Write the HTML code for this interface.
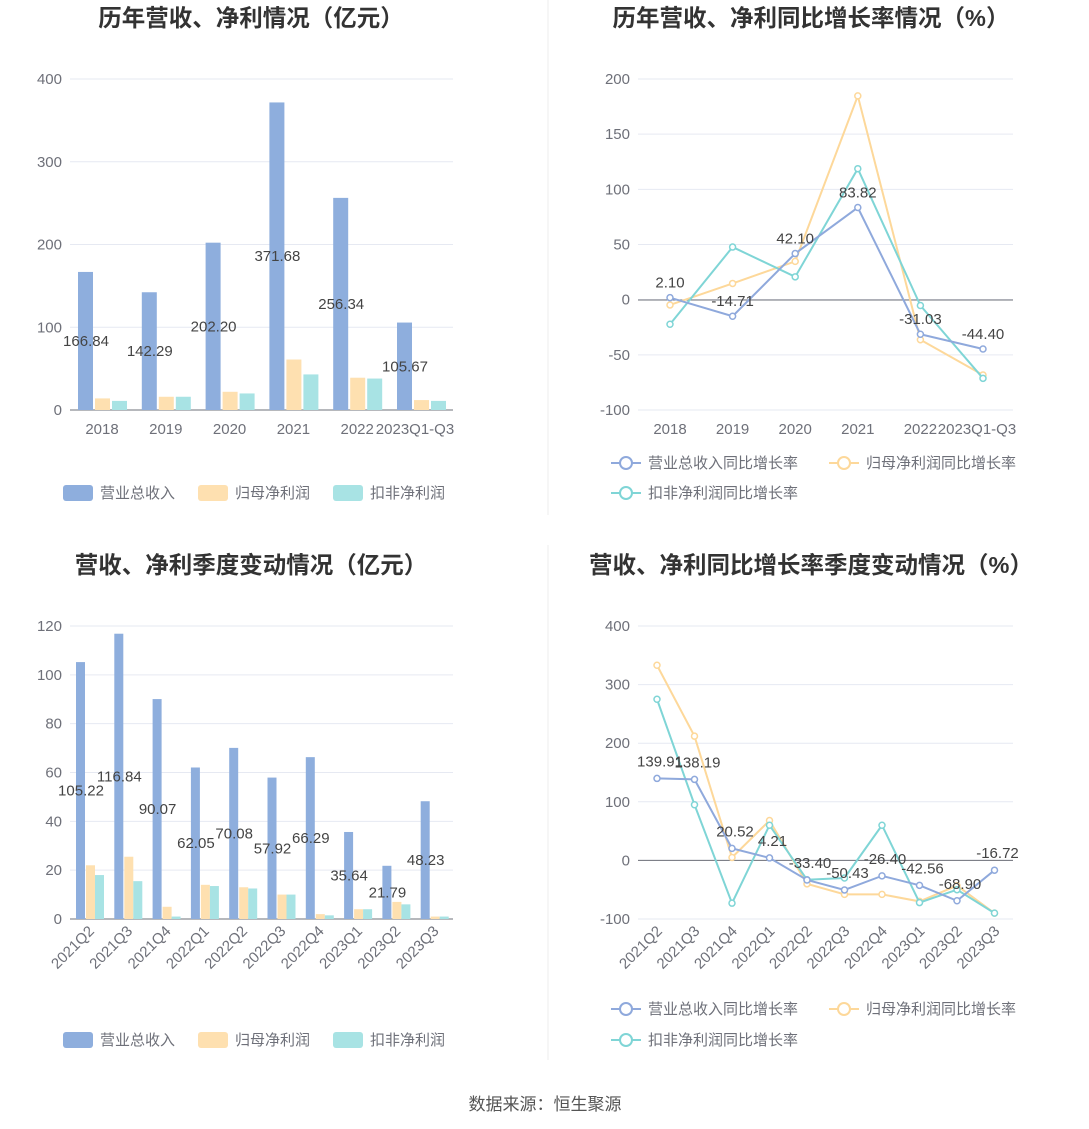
<!DOCTYPE html>
<html><head><meta charset="utf-8"><style>
body{margin:0;background:#fff;width:1089px;height:1129px;overflow:hidden}
svg{display:block;font-family:"Liberation Sans","Noto Sans CJK SC",sans-serif}
</style></head><body>
<svg id="s" width="1089" height="1129" xmlns="http://www.w3.org/2000/svg"></svg>
<script>
const s=document.getElementById('s');let h='';
const B='#8eaedd',Y='#fee0b0',T='#a8e3e4',LB='#8fa9dc',LY='#fdd89a',LT='#7fd5d6';
function t(x,y,str,o={}){h+=`<text x="${x}" y="${y}" font-size="${o.fs||15}" fill="${o.c||'#6e7079'}" text-anchor="${o.a||'middle'}" ${o.w?'font-weight="bold"':''} ${o.r?`transform="rotate(${o.r} ${x} ${y})"`:''}>${str}</text>`;}
function grid(x0,x1,yt,yb,ticks,zeroY){ticks.forEach((v,i)=>{const y=yt+(yb-yt)*i/(ticks.length-1);h+=`<line x1="${x0}" x2="${x1}" y1="${y}" y2="${y}" stroke="#e6e9f2"/>`;t(x0-8,y+5,v,{a:'end'});});
h+=`<line x1="${x0}" x2="${x1}" y1="${zeroY}" y2="${zeroY}" stroke="#6e7079"/>`;}
function legend(items){items.forEach((it,i)=>{const [x,yy]=it.pos;if(it.line){h+=`<line x1="${x}" x2="${x+30}" y1="${yy}" y2="${yy}" stroke="${it.c}" stroke-width="2"/><circle cx="${x+15}" cy="${yy}" r="6" fill="#fff" stroke="${it.c}" stroke-width="2"/>`;}else h+=`<rect x="${x}" y="${yy-8}" width="30" height="16" rx="3" fill="${it.c}"/>`;t(x+37,yy+5,it.n,{a:'start'});});}
t(251,26,'历年营收、净利情况（亿元）',{fs:23.5,w:1,c:'#333'});
t(811,26,'历年营收、净利同比增长率情况（%）',{fs:23.5,w:1,c:'#333'});
t(251,573,'营收、净利季度变动情况（亿元）',{fs:23.5,w:1,c:'#333'});
t(811,573,'营收、净利同比增长率季度变动情况（%）',{fs:23.5,w:1,c:'#333'});
h+=`<line x1="548" x2="548" y1="0" y2="515" stroke="#eee"/><line x1="548" x2="548" y1="545" y2="1060" stroke="#eee"/>`;
grid(70,453,79,410,[400,300,200,100,0],410);
const c1=['2018','2019','2020','2021','2022','2023Q1-Q3'],r1=[166.84,142.29,202.20,371.68,256.34,105.67],n1=[14,16,22,61,39,12],d1=[11,16,20,43,38,11];
const sc1=331/400;
c1.forEach((c,i)=>{const cx=102+i*63.8;[[r1[i],B,-24],[n1[i],Y,-7],[d1[i],T,10]].forEach(([v,col,o])=>{h+=`<rect x="${cx+o}" y="${410-v*sc1}" width="15" height="${v*sc1}" fill="${col}"/>`});t(cx+(i==5?-6:0),434,c);t(cx-16,410-r1[i]*sc1/2+5,r1[i].toFixed(2),{c:'#444'});});
legend([{n:'营业总收入',c:B,pos:[63,493]},{n:'归母净利润',c:Y,pos:[198,493]},{n:'扣非净利润',c:T,pos:[333,493]}]);
grid(638,1013,79,410,[200,150,100,50,0,-50,-100],300);
const sc2=331/300;const X2=i=>670+i*62.6;
function line(xf,vals,zero,sc,col){let p=vals.map((v,i)=>`${xf(i)},${zero-v*sc}`).join(' ');h+=`<polyline points="${p}" fill="none" stroke="${col}" stroke-width="2"/>`;vals.forEach((v,i)=>h+=`<circle cx="${xf(i)}" cy="${zero-v*sc}" r="3" fill="#fff" stroke="${col}" stroke-width="1.5"/>`);}
line(X2,[-4.5,15,35,185,-36,-68],300,sc2,LY);
line(X2,[-22,48,21,119,-5,-71],300,sc2,LT);
const g1=[2.10,-14.71,42.10,83.82,-31.03,-44.40];line(X2,g1,300,sc2,LB);
g1.forEach((v,i)=>t(X2(i),300-v*sc2-10,v.toFixed(2),{c:'#444'}));
c1.forEach((c,i)=>t(X2(i)+(i==5?-6:0),434,c));
legend([{n:'营业总收入同比增长率',c:LB,pos:[611,463],line:1},{n:'归母净利润同比增长率',c:LY,pos:[829,463],line:1},{n:'扣非净利润同比增长率',c:LT,pos:[611,493],line:1}]);
grid(70,453,626,919,[120,100,80,60,40,20,0],919);
const c3=['2021Q2','2021Q3','2021Q4','2022Q1','2022Q2','2022Q3','2022Q4','2023Q1','2023Q2','2023Q3'];
const r3=[105.22,116.84,90.07,62.05,70.08,57.92,66.29,35.64,21.79,48.23],n3=[22,25.5,5,14,13,10,2,4,7,1],d3=[18,15.5,1,13.5,12.5,10,1.5,4,6,1];
const sc3=293/120;
c3.forEach((c,i)=>{const cx=89+i*38.3;[[r3[i],B,-13],[n3[i],Y,-3],[d3[i],T,6]].forEach(([v,col,o])=>{h+=`<rect x="${cx+o}" y="${919-v*sc3}" width="9" height="${v*sc3}" fill="${col}"/>`});t(cx+6,932,c,{a:'end',r:-45});t(cx-8,919-r3[i]*sc3/2+5,r3[i].toFixed(2),{c:'#444'});});
legend([{n:'营业总收入',c:B,pos:[63,1040]},{n:'归母净利润',c:Y,pos:[198,1040]},{n:'扣非净利润',c:T,pos:[333,1040]}]);
grid(638,1013,626,919,[400,300,200,100,0,-100],860.4);
const sc4=293/500;const X4=i=>657+i*37.5;
line(X4,[333,212,5,68,-40,-58,-58,-70,-43,-90],860.4,sc4,LY);
line(X4,[275,95,-73,60,-33,-30,60,-72,-50,-90],860.4,sc4,LT);
const g4=[139.91,138.19,20.52,4.21,-33.40,-50.43,-26.40,-42.56,-68.90,-16.72];line(X4,g4,860.4,sc4,LB);
g4.forEach((v,i)=>t(X4(i)+3,860.4-v*sc4-12,v.toFixed(2),{c:'#444'}));
c3.forEach((c,i)=>t(X4(i)+6,932,c,{a:'end',r:-45}));
legend([{n:'营业总收入同比增长率',c:LB,pos:[611,1009],line:1},{n:'归母净利润同比增长率',c:LY,pos:[829,1009],line:1},{n:'扣非净利润同比增长率',c:LT,pos:[611,1040],line:1}]);
t(545,1110,'数据来源：恒生聚源',{fs:17,c:'#555'});
s.innerHTML=h;
</script></body></html>
